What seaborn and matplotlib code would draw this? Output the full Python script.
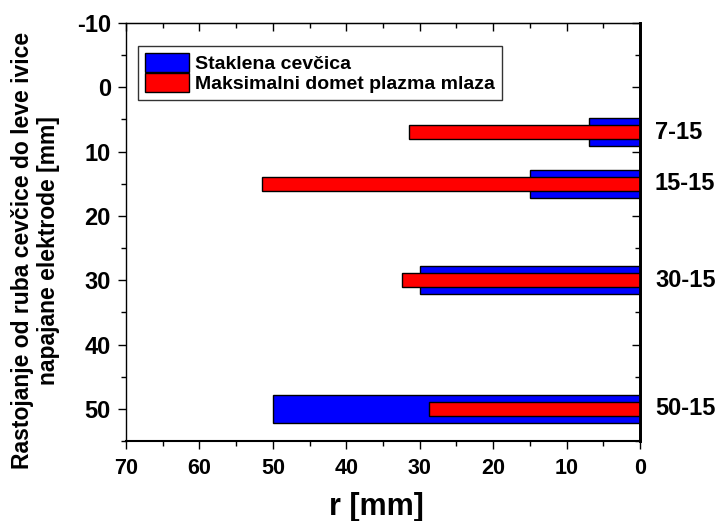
import pandas as pd
import matplotlib.pyplot as plt
import seaborn as sns
from matplotlib.ticker import MultipleLocator

# Data
positions = [7, 15, 30, 50]               # mm, distance from tube edge
glass_tube = [7, 15, 30, 50]              # r [mm], glass tube
plasma_reach = [31.5, 51.5, 32.4, 28.7]   # r [mm], max plasma jet reach
row_labels = ["7-15", "15-15", "30-15", "50-15"]
x_ticks = [70, 60, 50, 40, 30, 20, 10, 0]
y_ticks = [-10, 0, 10, 20, 30, 40, 50]

df = pd.DataFrame({"pos": positions, "tube": glass_tube, "plasma": plasma_reach})

sns.set_style("ticks")
plt.rcParams["font.family"] = ["Liberation Sans", "DejaVu Sans"]
plt.rcParams["font.weight"] = "bold"
plt.rcParams["axes.unicode_minus"] = False
for k in ["text.color", "axes.labelcolor", "xtick.color", "ytick.color", "axes.edgecolor"]:
    plt.rcParams[k] = "black"

fig = plt.figure(figsize=(7.21, 5.21), dpi=100)
ax = fig.add_axes([0.1748, 0.1536, 0.7129, 0.8023])

# bar thickness in data units / smallest spacing between positions (8)
sns.barplot(data=df, x="tube", y="pos", orient="h", native_scale=True,
            width=4.4 / 8, color="#0000ff", saturation=1, edgecolor="black",
            linewidth=1, label="Staklena cevčica", ax=ax)
sns.barplot(data=df, x="plasma", y="pos", orient="h", native_scale=True,
            width=2.2 / 8, color="#ff0000", saturation=1, edgecolor="black",
            linewidth=1, label="Maksimalni domet plazma mlaza", ax=ax)

ax.set_xticks(x_ticks, labels=[str(v) for v in x_ticks], fontsize=15.5, fontweight="bold")
ax.set_yticks(y_ticks, labels=[str(v) for v in y_ticks], fontsize=17, fontweight="bold")
ax.set_xlim(70, 0)
ax.set_ylim(55, -10)
ax.xaxis.set_minor_locator(MultipleLocator(5))
ax.yaxis.set_minor_locator(MultipleLocator(5))

ax.tick_params(which="both", direction="out", width=1)
ax.tick_params(which="major", length=6)
ax.tick_params(which="minor", length=3.5)
ax.tick_params(axis="x", which="major", pad=6.5)
ax.tick_params(axis="y", which="major", pad=5)

# mirrored inward ticks on top and right
top = ax.secondary_xaxis("top")
top.set_xticks(x_ticks)
top.xaxis.set_minor_locator(MultipleLocator(5))
top.tick_params(which="both", direction="in", labeltop=False, width=1)
top.tick_params(which="major", length=6)
top.tick_params(which="minor", length=3.5)
right = ax.secondary_yaxis("right")
right.set_yticks(y_ticks)
right.yaxis.set_minor_locator(MultipleLocator(5))
right.tick_params(which="both", direction="in", labelright=False, width=1)
right.tick_params(which="major", length=6)
right.tick_params(which="minor", length=3.5)
right.spines["right"].set_linewidth(2)

for s in ax.spines.values():
    s.set_visible(True)
    s.set_color("black")
    s.set_linewidth(1)
ax.spines["right"].set_linewidth(2)
ax.spines["bottom"].set_linewidth(1.5)

ax.set_xlabel("r [mm]", fontsize=22, fontweight="bold", labelpad=9)
ax.xaxis.label.set_x(0.488)
ax.set_ylabel("Rastojanje od ruba cevčice do leve ivice\nnapajane elektrode [mm]",
              fontsize=16.5, fontweight="bold", labelpad=12, linespacing=1.15)
ax.yaxis.label.set_y(0.455)

for p, lab in zip(positions, row_labels):
    ax.text(1.029, p, lab, transform=ax.get_yaxis_transform(),
            fontsize=17, fontweight="bold", va="center", ha="left")

leg = ax.legend(loc="upper left", bbox_to_anchor=(0.023, 0.945), frameon=True,
                fancybox=False, edgecolor="black", fontsize=14,
                handlelength=2.3, handleheight=1.15, handletextpad=0.3,
                borderpad=0.35, labelspacing=0.0, borderaxespad=0)
for t in leg.get_texts():
    t.set_fontweight("bold")
leg.get_frame().set_linewidth(1)

fig.savefig("out.png", dpi=100)
